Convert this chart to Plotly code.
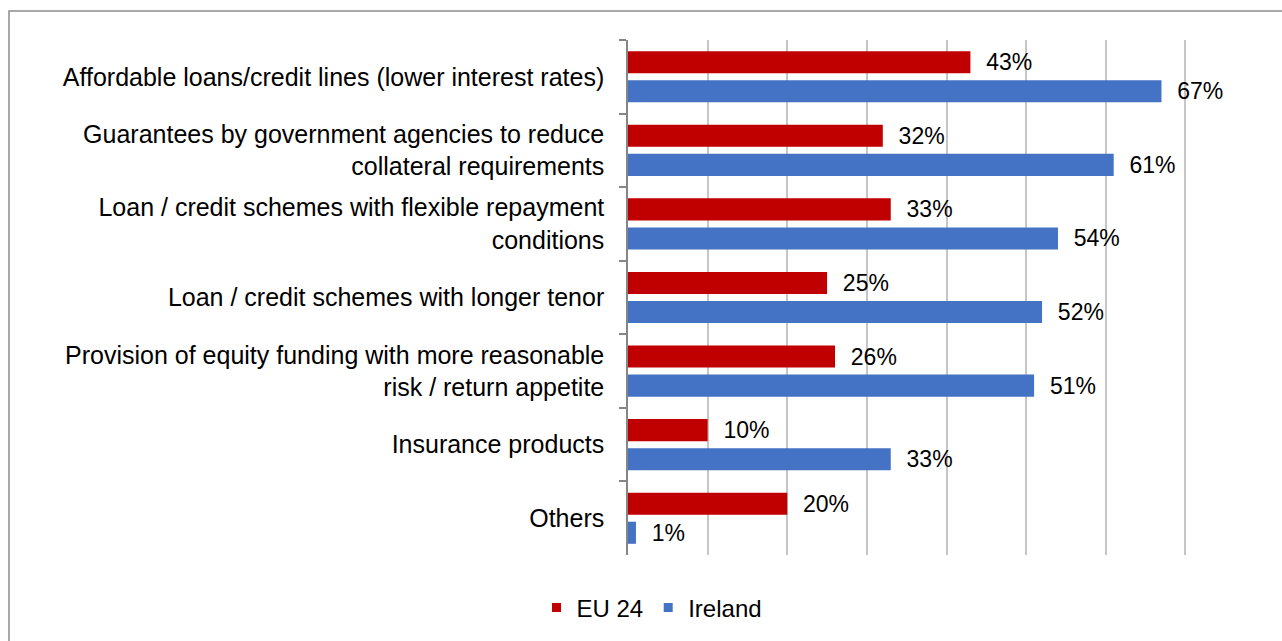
import plotly.graph_objects as go

categories = [
    "Affordable loans/credit lines (lower interest rates)",
    "Guarantees by government agencies to reduce<br>collateral requirements",
    "Loan / credit schemes with flexible repayment<br>conditions",
    "Loan / credit schemes with longer tenor",
    "Provision of equity funding with more reasonable<br>risk / return appetite",
    "Insurance products",
    "Others",
]
eu24 = [43, 32, 33, 25, 26, 10, 20]
ireland = [67, 61, 54, 52, 51, 33, 1]
series_names = ["EU 24", "Ireland"]
colors = ["#C00000", "#4472C4"]

FONT = "Liberation Sans, Arial, sans-serif"
W, H = 1282, 641
L, R, T, B = 628, 17, 40, 86
pw, ph = W - L - R, H - T - B

fig = go.Figure()
for name, vals, col in zip(series_names, [eu24, ireland], colors):
    fig.add_trace(go.Bar(
        y=categories, x=vals, orientation="h", name=name,
        marker=dict(color=col, line=dict(width=0)),
        text=["\u00a0\u00a0" + f"{v}%" for v in vals],
        textposition="outside", cliponaxis=False, constraintext="none",
        textfont=dict(family=FONT, size=23, color="#000000"),
        showlegend=False,
    ))

# square legend swatches on a hidden helper axis pair
for name, col in zip(series_names, colors):
    fig.add_trace(go.Scatter(
        x=[0], y=[0], xaxis="x2", yaxis="y2", mode="markers", name=name,
        marker=dict(symbol="square", size=9, color=col),
        showlegend=True,
    ))

def px_x(p):
    return (p - L) / pw

def px_y(p):
    return (H - B - p) / ph

fig.add_shape(type="rect", xref="paper", yref="paper",
              x0=px_x(9), x1=px_x(1300), y0=px_y(660), y1=px_y(11),
              line=dict(color="#8c8c8c", width=1.5), fillcolor="rgba(0,0,0,0)",
              layer="below")

fig.update_layout(
    template="none",
    width=W, height=H,
    margin=dict(l=L, r=R, t=T, b=B, pad=0, autoexpand=False),
    paper_bgcolor="white", plot_bgcolor="white",
    barmode="group", bargap=0.21, bargroupgap=0.24,
    font=dict(family=FONT, size=21, color="#000000"),
    xaxis=dict(range=[0, 80], dtick=10, showgrid=True, gridcolor="#c6c6c6",
               gridwidth=1.5, showticklabels=False, zeroline=False,
               showline=False, ticks="", automargin=False),
    yaxis=dict(autorange="reversed", showline=True, linecolor="#868686",
               linewidth=1.5, ticks="outside", tickson="boundaries",
               ticklen=7, tickcolor="#868686", tickwidth=1.5,
               ticklabelstandoff=17, showgrid=False, zeroline=False,
               automargin=False,
               tickfont=dict(family=FONT, size=25, color="#000000")),
    xaxis2=dict(overlaying="x", visible=False, range=[1, 2]),
    yaxis2=dict(overlaying="y", visible=False, range=[1, 2]),
    legend=dict(orientation="h", x=px_x(652), xanchor="center",
                y=px_y(608), yanchor="middle",
                font=dict(family=FONT, size=24, color="#000000"),
                bgcolor="rgba(0,0,0,0)"),
)

fig.write_html("out.html")
